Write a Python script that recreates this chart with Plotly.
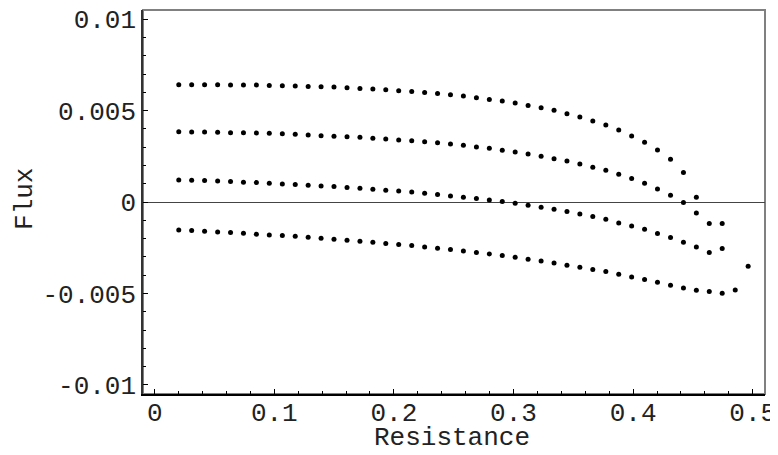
import plotly.graph_objects as go

# Resistance grid
resistance = [0.0201, 0.0309, 0.0417, 0.0526, 0.0634, 0.0742, 0.0850, 0.0958, 0.1067, 0.1175,
              0.1283, 0.1391, 0.1499, 0.1608, 0.1716, 0.1824, 0.1932, 0.2040, 0.2149, 0.2257,
              0.2365, 0.2473, 0.2581, 0.2690, 0.2798, 0.2906, 0.3014, 0.3122, 0.3231, 0.3339,
              0.3447, 0.3555, 0.3663, 0.3772, 0.3880, 0.3988, 0.4096, 0.4204, 0.4313, 0.4421,
              0.4529, 0.4637, 0.4745, 0.4854, 0.4962]

flux_1 = [0.006415, 0.006415, 0.006415, 0.006410, 0.006404, 0.006400, 0.006393, 0.006377, 0.006360, 0.006339,
          0.006322, 0.006300, 0.006284, 0.006251, 0.006213, 0.006175, 0.006142, 0.006087, 0.006049, 0.005995,
          0.005940, 0.005869, 0.005792, 0.005705, 0.005612, 0.005519, 0.005410, 0.005284, 0.005158, 0.005011,
          0.004831, 0.004645, 0.004426, 0.004208, 0.003934, 0.003607, 0.003262, 0.002842, 0.002333, 0.001607,
          0.000257]

flux_2 = [0.003847, 0.003825, 0.003825, 0.003809, 0.003792, 0.003792, 0.003770, 0.003754, 0.003738, 0.003699,
          0.003661, 0.003628, 0.003590, 0.003574, 0.003535, 0.003481, 0.003443, 0.003388, 0.003355, 0.003301,
          0.003246, 0.003169, 0.003098, 0.003005, 0.002934, 0.002825, 0.002732, 0.002623, 0.002497, 0.002371,
          0.002240, 0.002077, 0.001896, 0.001732, 0.001514, 0.001279, 0.001022, 0.000710, 0.000366, -0.000033,
          -0.000601, -0.001180, -0.001180]

flux_3 = [0.001202, 0.001186, 0.001169, 0.001148, 0.001115, 0.001077, 0.001060, 0.001022, 0.000984, 0.000951,
          0.000913, 0.000874, 0.000842, 0.000787, 0.000749, 0.000694, 0.000639, 0.000601, 0.000546, 0.000475,
          0.000404, 0.000328, 0.000262, 0.000186, 0.000109, 0.000022, -0.000071, -0.000180, -0.000290, -0.000399,
          -0.000525, -0.000656, -0.000798, -0.000945, -0.001148, -0.001311, -0.001492, -0.001727, -0.001945, -0.002202,
          -0.002459, -0.002765, -0.002546]

flux_4 = [-0.001530, -0.001563, -0.001601, -0.001639, -0.001672, -0.001710, -0.001765, -0.001803, -0.001836, -0.001874,
          -0.001929, -0.001984, -0.002038, -0.002093, -0.002148, -0.002202, -0.002273, -0.002328, -0.002383, -0.002459,
          -0.002530, -0.002601, -0.002678, -0.002765, -0.002842, -0.002929, -0.003022, -0.003131, -0.003224, -0.003333,
          -0.003459, -0.003568, -0.003694, -0.003803, -0.003951, -0.004098, -0.004240, -0.004388, -0.004552, -0.004699,
          -0.004825, -0.004896, -0.004989, -0.004809, -0.003514]

x_tickvals = [0, 0.1, 0.2, 0.3, 0.4, 0.5]
x_ticktext = ["0", "0.1", "0.2", "0.3", "0.4", "0.5"]
y_tickvals = [-0.01, -0.005, 0, 0.005, 0.01]
y_ticktext = ["-0.01", "-0.005", "0", "0.005", "0.01"]

FONT = "Liberation Mono, Courier New, monospace"
TXT = "#222"
FS = 26

fig = go.Figure()
for ys in [flux_1, flux_2, flux_3, flux_4]:
    fig.add_trace(go.Scatter(
        x=resistance[:len(ys)], y=ys, mode="markers",
        marker=dict(color="black", size=5, line=dict(width=0)),
        showlegend=False, hoverinfo="x+y"))

xr = [-0.0098, 0.5103]
yr = [-0.0105, 0.0105]

fig.update_layout(
    template="none",
    width=770, height=447,
    margin=dict(l=135, r=13, t=2, b=61, autoexpand=False),
    paper_bgcolor="white", plot_bgcolor="white",
    font=dict(family=FONT, size=FS, color=TXT),
    xaxis=dict(range=xr, tickvals=x_tickvals, ticktext=x_ticktext, automargin=False,
               ticks="inside", ticklen=5, tickcolor="black", tickwidth=1,
               ticklabelstandoff=-6, ticklabeloverflow="allow",
               minor=dict(dtick=0.02, tick0=0, ticks="inside", ticklen=3, tickcolor="black"),
               showgrid=False, zeroline=False, showline=True, linecolor="black", linewidth=1.5,
               tickfont=dict(size=FS, color=TXT)),
    yaxis=dict(range=yr, tickvals=y_tickvals, ticktext=y_ticktext, automargin=False,
               ticks="inside", ticklen=5, tickcolor="black", tickwidth=1,
               ticklabeloverflow="allow",
               minor=dict(dtick=0.001, tick0=0, ticks="inside", ticklen=3, tickcolor="black"),
               showgrid=False, zeroline=True, zerolinecolor="#444", zerolinewidth=1,
               showline=True, linecolor="#333", linewidth=1.5,
               tickfont=dict(size=FS, color=TXT)),
    shapes=[
        dict(type="rect", xref="paper", yref="paper", x0=0, x1=1, y0=0, y1=1,
             line=dict(color="#808080", width=2), fillcolor="rgba(0,0,0,0)", layer="below"),
    ],
    annotations=[
        dict(text="Resistance", xref="paper", yref="paper", x=0.497, y=-0.1146,
             xanchor="center", yanchor="middle", showarrow=False,
             font=dict(size=FS, color=TXT)),
        dict(text="Flux", xref="paper", yref="paper", x=-0.1897, y=0.508, textangle=-90,
             xanchor="center", yanchor="middle", showarrow=False,
             font=dict(size=FS, color=TXT)),
    ],
)

fig.write_html("out.html")
